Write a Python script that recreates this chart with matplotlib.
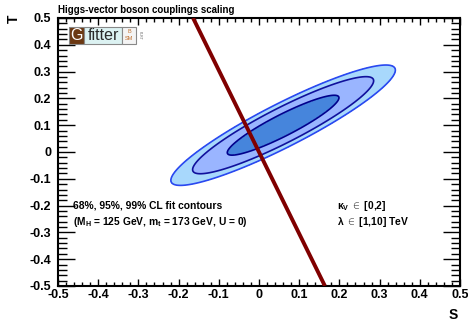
import numpy as np
import matplotlib
matplotlib.use("Agg")
import matplotlib.pyplot as plt
from matplotlib.patches import Rectangle
from matplotlib.ticker import MultipleLocator

plt.rcParams['font.family'] = ['Liberation Sans', 'DejaVu Sans']
plt.rcParams['font.weight'] = 'bold'
plt.rcParams['mathtext.fontset'] = 'custom'
plt.rcParams['mathtext.rm'] = 'Liberation Sans:bold'
plt.rcParams['mathtext.it'] = 'Liberation Sans:bold'
plt.rcParams['mathtext.bf'] = 'Liberation Sans:bold'

# ---- data ----
fit_center = [0.06, 0.10]          # S, T
fit_sigma = [0.092, 0.074]         # sigma_S, sigma_T
fit_rho = 0.915
cl_levels = [2.28, 5.99, 9.21]     # 68%, 95%, 99% (2 dof)
fill_colors = ['#4685dc', '#9ab5ff', '#a8d8fc']
edge_colors = ['#00008c', '#10109c', '#2a48f0']

line_S = [-0.164, 0.164]
line_T = [0.5, -0.5]

xticks = [-0.5, -0.4, -0.3, -0.2, -0.1, 0, 0.1, 0.2, 0.3, 0.4, 0.5]
yticks = [-0.5, -0.4, -0.3, -0.2, -0.1, 0, 0.1, 0.2, 0.3, 0.4, 0.5]
tick_labels = ['-0.5', '-0.4', '-0.3', '-0.2', '-0.1', '0', '0.1', '0.2', '0.3', '0.4', '0.5']

# ---- figure ----
W, H = 468, 323
fig = plt.figure(figsize=(W / 100, H / 100), dpi=100)
ax = fig.add_axes([58 / W, (H - 286) / H, 402 / W, 268 / H])

s = np.linspace(-0.5, 0.5, 600)
t = np.linspace(-0.5, 0.5, 600)
SS, TT = np.meshgrid(s, t)
dx = (SS - fit_center[0]) / fit_sigma[0]
dy = (TT - fit_center[1]) / fit_sigma[1]
chi2 = (dx ** 2 - 2 * fit_rho * dx * dy + dy ** 2) / (1 - fit_rho ** 2)

ax.contourf(SS, TT, chi2, levels=[-1] + cl_levels, colors=fill_colors, zorder=1)
for lev, ec in zip(cl_levels, edge_colors):
    ax.contour(SS, TT, chi2, levels=[lev], colors=[ec], linewidths=1.2, zorder=2)

ax.plot(line_S, line_T, color='#800000', lw=2.8, zorder=3, solid_capstyle='butt')

ax.set_xlim(-0.5, 0.5)
ax.set_ylim(-0.5, 0.5)
ax.set_xticks(xticks)
ax.set_xticklabels(tick_labels)
ax.set_yticks(yticks)
ax.set_yticklabels(tick_labels)
ax.xaxis.set_minor_locator(MultipleLocator(0.02))
ax.yaxis.set_minor_locator(MultipleLocator(0.02))
ax.tick_params(axis='x', which='major', direction='in', length=5, width=1, top=True, bottom=True,
               labelsize=9, pad=2)
ax.tick_params(axis='x', which='minor', direction='in', length=3, width=1, top=True, bottom=True)
ax.tick_params(axis='y', which='major', direction='in', length=12, width=1, left=True, right=True,
               labelsize=9, pad=5)
ax.tick_params(axis='y', which='minor', direction='in', length=6.5, width=1, left=True, right=True)
for lab in ax.get_xticklabels() + ax.get_yticklabels():
    lab.set_fontweight('bold')
for sp in ax.spines.values():
    sp.set_linewidth(1.5)

# axis titles
fig.text(453 / W, 1 - 315 / H, 'S', fontsize=10, fontweight='bold', ha='center', va='center')
fig.text(14 / W, 1 - 19 / H, 'T', fontsize=10, fontweight='bold', ha='center', va='center', rotation=90)

# title
fig.text(58 / W, 1 - 10 / H, 'Higgs-vector boson couplings scaling', fontsize=7, fontweight='bold',
         ha='left', va='center')

# annotations
fig.text(73 / W, 1 - 206 / H, '68%, 95%, 99% CL fit contours', fontsize=7.4, fontweight='bold',
         ha='left', va='center')
fig.text(73 / W, 1 - 222 / H, r'(M$_\mathrm{H}$ = 125 GeV, m$_\mathrm{t}$ = 173 GeV, U = 0)', fontsize=7.4,
         fontweight='bold', ha='left', va='center')
fig.text(337 / W, 1 - 206 / H, r'$\kappa_\mathrm{V}$ $\in$ [0,2]', fontsize=7.4, fontweight='bold',
         ha='left', va='center')
fig.text(337 / W, 1 - 222 / H, r'$\lambda$ $\in$ [1,10] TeV', fontsize=7.4, fontweight='bold',
         ha='left', va='center')

# Gfitter logo
def fbox(x0, y0, x1, y1, fc, ec='#888888'):
    fig.patches.append(Rectangle((x0 / W, 1 - y1 / H), (x1 - x0) / W, (y1 - y0) / H,
                                 transform=fig.transFigure, facecolor=fc, edgecolor=ec,
                                 linewidth=0.8, zorder=5))

fbox(69, 27, 84, 44, '#6b3812')
fbox(84, 27, 122, 44, '#dcf2f2')
fbox(122, 27, 136, 44, '#f4f4f4')
fig.text(76.5 / W, 1 - 35.5 / H, 'G', fontsize=11.5, color='white', ha='center', va='center',
         fontweight='normal', zorder=6)
fig.text(103 / W, 1 - 35.5 / H, 'fitter', fontsize=11.5, color='#2a2a2a', ha='center', va='center',
         fontweight='normal', zorder=6)
fig.text(129 / W, 1 - 31.5 / H, 'B', fontsize=4, color='#c07030', ha='center', va='center',
         fontweight='normal', zorder=6)
fig.text(129 / W, 1 - 39 / H, 'SM', fontsize=4, color='#c07030', ha='center', va='center',
         fontweight='normal', zorder=6)
fig.text(139.5 / W, 1 - 35 / H, 'PLRT', fontsize=2.5, color='#666666', ha='center', va='center',
         rotation=-90, fontweight='normal', zorder=6)

fig.savefig('out.png', dpi=100)
